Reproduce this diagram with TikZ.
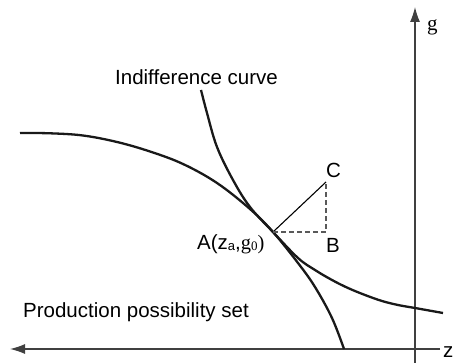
\documentclass[tikz,border=0pt]{standalone}
\usepackage{fontspec}
\setmainfont{Liberation Sans}
\newfontfamily\serifface{Liberation Serif}
\usetikzlibrary{arrows.meta}
\begin{document}
\begin{tikzpicture}[x=1pt,y=-1pt,
  axisline/.style={draw=black!75, line width=1.2pt},
  curveline/.style={draw=black!90, line width=2.3pt},
  thinline/.style={draw=black, line width=1.1pt},
  dashline/.style={draw=black!65, line width=1.1pt, dash pattern=on 5pt off 3pt},
  lbl/.style={inner sep=0pt, font=\fontsize{20.5}{24}\selectfont}]
\useasboundingbox (0,0) rectangle (455,363);
% axes
\coordinate (xr) at (440,349);
\coordinate (xl) at (10,349);
\coordinate (yb) at (415,363);
\coordinate (yt) at (415,7);
\draw[axisline, -{Latex[length=15pt,width=10pt]}] (xr) -- (xl);
\draw[axisline, -{Latex[length=15pt,width=10pt]}] (yb) -- (yt);
\node[lbl, anchor=base west] (zl) at (443,357) {z};
\node[inner sep=0pt, anchor=base west, font=\serifface\fontsize{21}{24}\selectfont] (gl) at (427,31) {g};
% production possibility curve
\draw[curveline] plot[smooth, tension=0.6] coordinates {(20,133) (50,133.3) (83,135.5) (117,142) (150,151.5) (183,164) (217,183) (250,209) (273,232) (298,263) (315,287) (332,318) (344,349)};
% indifference curve
\draw[curveline] plot[smooth, tension=0.6] coordinates {(201,90) (207,113) (217,147) (233,180) (250,207) (273,232) (298,258) (315,270) (332,280) (348,288) (365,295) (382,301) (398,305) (415,308) (443,313)};
% points
\coordinate (A) at (273,232);
\coordinate (B) at (326,232);
\coordinate (C) at (326,182);
\draw[thinline] (A) -- (C);
\draw[dashline] (A) -- (B) -- (C);
\node[lbl, anchor=base west] (Cl) at (326,178) {C};
\node[lbl, anchor=base west] (Bl) at (326,253) {B};
\node[lbl, anchor=base west] (Al) at (197,250) {A(z\raisebox{-1pt}{\fontsize{13}{13}\selectfont a},{\serifface g\raisebox{-1pt}{\fontsize{13}{13}\selectfont 0})}};
\node[lbl, anchor=base west] (ic) at (115,85) {Indifference curve};
\node[lbl, anchor=base west] (pps) at (23,317) {Production possibility set};
\end{tikzpicture}
\end{document}
